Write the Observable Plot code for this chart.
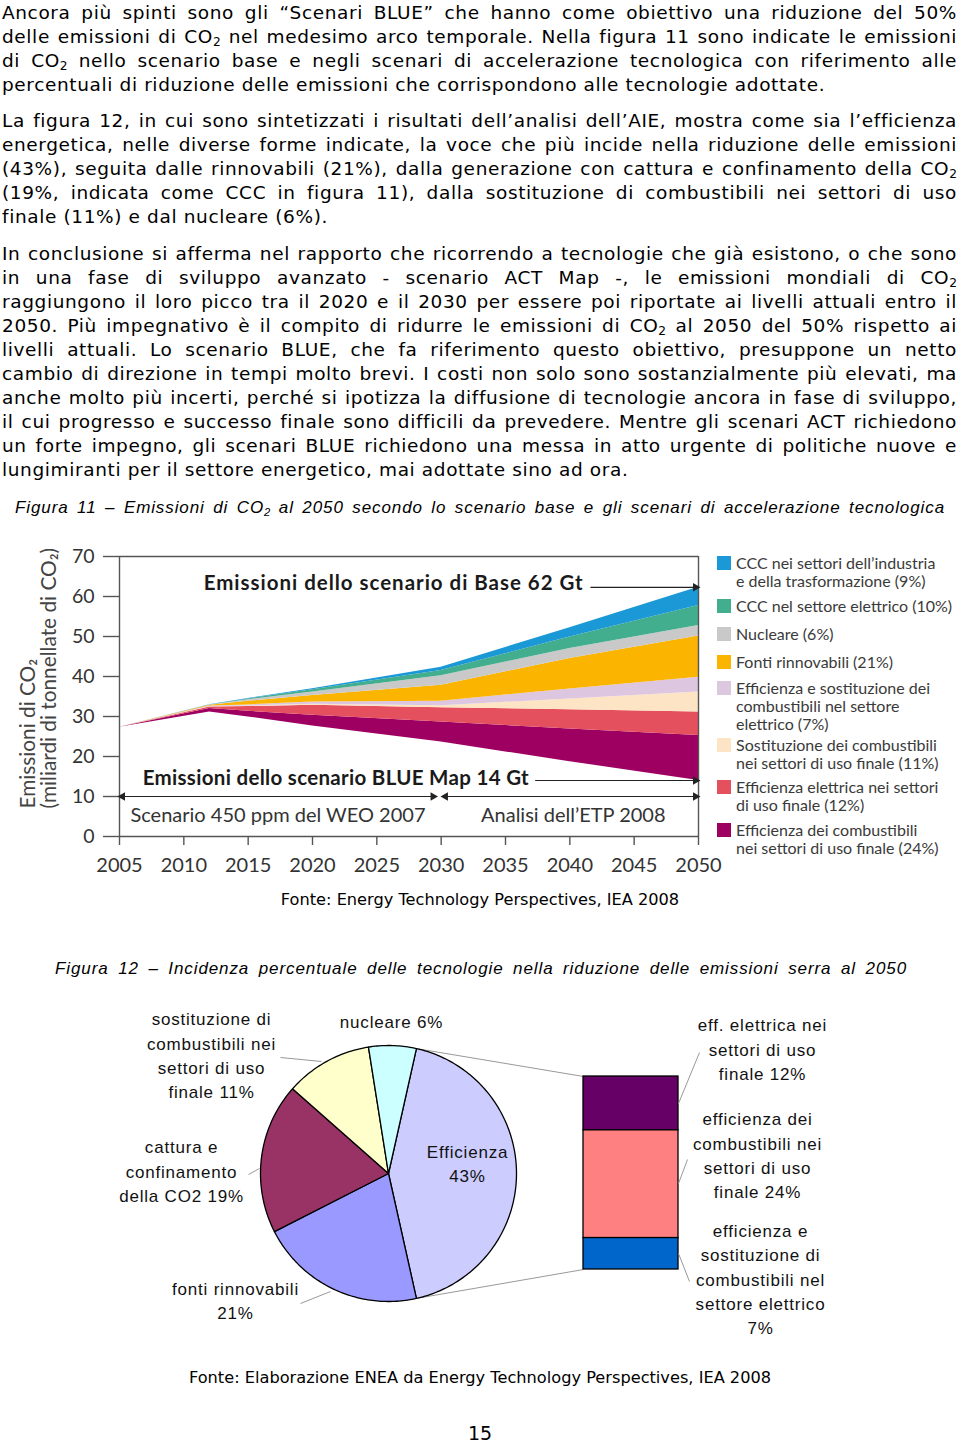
<!DOCTYPE html>
<html>
<head>
<meta charset="utf-8">
<script src="https://cdn.jsdelivr.net/npm/d3@7"></script>
<script src="https://cdn.jsdelivr.net/npm/@observablehq/plot@0.6"></script>
<style>
html, body { margin: 0; padding: 0; background: #fff; }
#page { position: relative; width: 960px; height: 1444px; overflow: hidden; font-family: "DejaVu Sans", Verdana, sans-serif; color: #000; }
.ln { position: absolute; left: 2px; width: 955px; height: 24px; line-height: 24px; font-size: 18.5px; letter-spacing: 0.62px; white-space: nowrap; }
.ln sub, .cap sub { font-size: 0.66em; vertical-align: -0.28em; line-height: 0; letter-spacing: 0; }
.cap { position: absolute; height: 24px; line-height: 24px; font-family: "Liberation Sans", Arial, sans-serif; font-style: italic; font-size: 17px; letter-spacing: 0.9px; white-space: nowrap; }
.src { position: absolute; left: 0; width: 960px; text-align: center; font-size: 16.2px; line-height: 20px; }
#legend11 { position: absolute; left: 717px; top: 0; font-family: Lato, "DejaVu Sans", sans-serif; font-size: 16px; line-height: 18px; color: #3a3a3a; }
#legend11 .it { position: absolute; left: 0; display: flex; align-items: flex-start; }
#legend11 .sw { width: 14px; height: 14px; margin-top: 2px; margin-right: 5px; flex: none; }
#legend11 .tx { white-space: pre; }
</style>
</head>
<body>
<div id="page"></div>
<script>
// ---------------- TEXT ----------------
const para1 = [
  "Ancora più spinti sono gli “Scenari BLUE” che hanno come obiettivo una riduzione del 50%",
  "delle emissioni di CO2 nel medesimo arco temporale. Nella figura 11 sono indicate le emissioni",
  "di CO2 nello scenario base e negli scenari di accelerazione tecnologica con riferimento alle",
  "percentuali di riduzione delle emissioni che corrispondono alle tecnologie adottate."
];
const para2 = [
  "La figura 12, in cui sono sintetizzati i risultati dell’analisi dell’AIE, mostra come sia l’efficienza",
  "energetica, nelle diverse forme indicate, la voce che più incide nella riduzione delle emissioni",
  "(43%), seguita dalle rinnovabili (21%), dalla generazione con cattura e confinamento della CO2",
  "(19%, indicata come CCC in figura 11), dalla sostituzione di combustibili nei settori di uso",
  "finale (11%) e dal nucleare (6%)."
];
const para3 = [
  "In conclusione si afferma nel rapporto che ricorrendo a tecnologie che già esistono, o che sono",
  "in una fase di sviluppo avanzato - scenario ACT Map -, le emissioni mondiali di CO2",
  "raggiungono il loro picco tra il 2020 e il 2030 per essere poi riportate ai livelli attuali entro il",
  "2050. Più impegnativo è il compito di ridurre le emissioni di CO2 al 2050 del 50% rispetto ai",
  "livelli attuali. Lo scenario BLUE, che fa riferimento questo obiettivo, presuppone un netto",
  "cambio di direzione in tempi molto brevi. I costi non solo sono sostanzialmente più elevati, ma",
  "anche molto più incerti, perché si ipotizza la diffusione di tecnologie ancora in fase di sviluppo,",
  "il cui progresso e successo finale sono difficili da prevedere. Mentre gli scenari ACT richiedono",
  "un forte impegno, gli scenari BLUE richiedono una messa in atto urgente di politiche nuove e",
  "lungimiranti per il settore energetico, mai adottate sino ad ora."
];
const caption11 = "Figura 11 – Emissioni di CO2 al 2050 secondo lo scenario base e gli scenari di accelerazione tecnologica";
const caption12 = "Figura 12 – Incidenza percentuale delle tecnologie nella riduzione delle emissioni serra al 2050";
const source11 = "Fonte: Energy Technology Perspectives, IEA 2008";
const source12 = "Fonte: Elaborazione ENEA da Energy Technology Perspectives, IEA 2008";
const pageNumber = "15";

// ---------------- FIGURA 11 DATA ----------------
const years = [2005, 2012, 2015, 2020, 2030, 2040, 2050];
const blueMapEmissions = [27.3, 31.1, 29.9, 27.6, 23.6, 18.7, 14.0];
// reductions (Gt CO2), stacked from the BLUE Map line upward
const effCombustibiliUsoFinale = [0, 0.9, 1.4, 2.7, 5.0, 8.2, 11.25];
const effElettricaUsoFinale   = [0, 0.35, 1.2, 2.5, 3.6, 4.8, 5.85];
const sostCombustibiliUsoFinale = [0, 0.1, 0.15, 0.25, 0.5, 2.7, 5.0];
const effSostSettoreElettrico = [0, 0.15, 0.25, 0.55, 1.1, 2.5, 3.7];
const fontiRinnovabili        = [0, 0.2, 0.9, 1.65, 4.0, 7.6, 10.3];
const nucleareGt              = [0, 0.05, 0.4, 0.85, 2.4, 2.5, 2.65];
const cccSettoreElettrico     = [0, 0.05, 0.2, 0.6, 1.3, 2.9, 5.0];
const cccIndustria            = [0, 0.05, 0.1, 0.25, 0.8, 2.3, 4.55];

const layerNames = [
  "Efficienza dei combustibili nei settori di uso finale",
  "Efficienza elettrica nei settori di uso finale",
  "Sostituzione dei combustibili nei settori di uso finale",
  "Efficienza e sostituzione dei combustibili nel settore elettrico",
  "Fonti rinnovabili",
  "Nucleare",
  "CCC nel settore elettrico",
  "CCC nei settori dell’industria e della trasformazione"
];
const layerColors = ["#9e0062", "#e5505e", "#fde4c4", "#dcc6e0", "#fbb400", "#c9c9c9", "#43ae8d", "#1b98d6"];
const legendLabels = [
  "CCC nei settori dell’industria\ne della trasformazione (9%)",
  "CCC nel settore elettrico (10%)",
  "Nucleare (6%)",
  "Fonti rinnovabili (21%)",
  "Efficienza e sostituzione dei\ncombustibili nel settore\nelettrico (7%)",
  "Sostituzione dei combustibili\nnei settori di uso finale (11%)",
  "Efficienza elettrica nei settori\ndi uso finale (12%)",
  "Efficienza dei combustibili\nnei settori di uso finale (24%)"
];
const yTicks = [0, 10, 20, 30, 40, 50, 60, 70];
const xTicks = [2005, 2010, 2015, 2020, 2025, 2030, 2035, 2040, 2045, 2050];
const yTitle = ["Emissioni di CO₂", "(miliardi di tonnellate di CO₂)"];
const boldNotes = [
  {text: "Emissioni dello scenario di Base 62 Gt", year: 2041.0, value: 63.3},
  {text: "Emissioni dello scenario BLUE Map 14 Gt", year: 2036.8, value: 14.6}
];
const periodNotes = [
  {text: "Scenario 450 ppm del WEO 2007", year: 2005.85, value: 5.2},
  {text: "Analisi dell’ETP 2008", year: 2033.1, value: 5.2}
];
const arrowLines = [
  {x1: 2041.6, x2: 2050, y: 62.3},
  {x1: 2037.3, x2: 2050, y: 14},
  {x1: 2005, x2: 2029.6, y: 10},
  {x1: 2030.1, x2: 2050, y: 10}
];
const headsRight = [{x: 2050, y: 62.3}, {x: 2050, y: 14}, {x: 2029.6, y: 10}, {x: 2050, y: 10}];
const headsLeft = [{x: 2005, y: 10}, {x: 2030.1, y: 10}];

// ---------------- FIGURA 12 DATA ----------------
const pieLabels = ["Efficienza", "fonti rinnovabili", "cattura e confinamento della CO2", "sostituzione di combustibili nei settori di uso finale", "nucleare"];
const pieShares = [43, 21, 19, 11, 6];
const pieColors = ["#CCCCFF", "#9999FF", "#993366", "#FFFFCC", "#CCFFFF"];
const pieTexts = ["Efficienza\n43%", "fonti rinnovabili\n21%", "cattura e\nconfinamento\ndella CO2 19%", "sostituzione di\ncombustibili nei\nsettori di uso\nfinale 11%", "nucleare 6%"];
const barLabels = ["eff. elettrica nei settori di uso finale", "efficienza dei combustibili nei settori di uso finale", "efficienza e sostituzione di combustibili nel settore elettrico"];
const barShares = [12, 24, 7];
const barColors = ["#660066", "#FF8080", "#0066CC"];
const barTexts = ["eff. elettrica nei\nsettori di uso\nfinale 12%", "efficienza dei\ncombustibili nei\nsettori di uso\nfinale 24%", "efficienza e\nsostituzione di\ncombustibili nel\nsettore elettrico\n7%"];

// ---------------- LAYOUT (positions in page pixels) ----------------
const legendLineCenters = [563, 606, 634, 662, 688, 745, 787, 830];
const boldNoteWidths = [379, 386];

// ---------------- PAGE TEXT ----------------
const page = document.getElementById("page");
function sub2(s) { return s.replace(/CO2/g, "CO<sub>2</sub>"); }
function addLine(cls, text, left, top, width, justify) {
  const d = document.createElement("div");
  d.className = cls;
  d.style.left = left + "px";
  d.style.top = top + "px";
  const s = document.createElement("span");
  s.innerHTML = sub2(text);
  d.appendChild(s);
  page.appendChild(d);
  if (justify) {
    const w = s.getBoundingClientRect().width;
    const n = (s.textContent.match(/ /g) || []).length;
    if (n) s.style.wordSpacing = ((width - w) / n) + "px";
  }
}
function addPara(lines, firstCenter) {
  lines.forEach((t, i) => addLine("ln", t, 2, firstCenter - 12 + i * 24, 955, i < lines.length - 1));
}
addPara(para1, 13);
addPara(para2, 121);
addPara(para3, 254);
addLine("cap", caption11, 15, 496, 930, true);
addLine("cap", caption12, 55, 957, 852, true);
function addSrc(text, centerY, size) {
  const d = document.createElement("div");
  d.className = "src";
  d.style.top = (centerY - 10) + "px";
  if (size) d.style.fontSize = size + "px";
  d.textContent = text;
  page.appendChild(d);
}
addSrc(source11, 900);
addSrc(source12, 1378);
addSrc(pageNumber, 1433, 19);

// ---------------- FIGURA 11 ----------------
const layers = [effCombustibiliUsoFinale, effElettricaUsoFinale, sostCombustibiliUsoFinale, effSostSettoreElettrico,
                fontiRinnovabili, nucleareGt, cccSettoreElettrico, cccIndustria];
const areaRows = [];
years.forEach((yr, j) => {
  let acc = blueMapEmissions[j];
  layers.forEach((vals, i) => {
    areaRows.push({year: yr, layer: layerNames[i], y1: acc, y2: acc + vals[j]});
    acc += vals[j];
  });
});
const axisColor = "#555";
const fig11 = Plot.plot({
  width: 710, height: 341,
  marginLeft: 119, marginRight: 12, marginTop: 16, marginBottom: 45,
  x: {domain: [2005, 2050]},
  y: {domain: [0, 70]},
  color: {domain: layerNames, range: layerColors},
  style: {fontFamily: "Lato, 'DejaVu Sans', sans-serif", color: "#333", background: "transparent", overflow: "visible"},
  marks: [
    Plot.areaY(areaRows, {x: "year", y1: "y1", y2: "y2", z: "layer", fill: "layer"}),
    Plot.ruleY([0, 70], {stroke: axisColor, strokeWidth: 1.4}),
    Plot.ruleX([2005, 2050], {y1: 0, y2: 70, stroke: axisColor, strokeWidth: 1.4}),
    Plot.axisY({ticks: yTicks, tickSize: 16, tickPadding: 9, fontSize: 19.5, label: null, stroke: axisColor, strokeWidth: 1.4, tickFormat: d => String(d)}),
    Plot.axisX({ticks: xTicks, tickSize: 9, tickPadding: 12, fontSize: 20, label: null, stroke: axisColor, strokeWidth: 1.4, tickFormat: d => String(d)}),
    Plot.text([yTitle[0]], {frameAnchor: "bottom-left", dx: -91, dy: -28, rotate: -90, textAnchor: "start", lineAnchor: "middle", fontSize: 20.8, fill: "#444"}),
    Plot.text([yTitle[1]], {frameAnchor: "bottom-left", dx: -70, dy: -28, rotate: -90, textAnchor: "start", lineAnchor: "middle", fontSize: 20.8, fill: "#444"}),
    Plot.link(arrowLines, {x1: "x1", x2: "x2", y1: "y", y2: "y", stroke: "#222", strokeWidth: 1.2}),
    Plot.dot(headsRight, {x: "x", y: "y", symbol: "triangle", r: 3.2, rotate: 90, dx: -3, fill: "#222", stroke: "none"}),
    Plot.dot(headsLeft, {x: "x", y: "y", symbol: "triangle", r: 3.2, rotate: -90, dx: 3, fill: "#222", stroke: "none"}),
    Plot.text(boldNotes, {x: "year", y: "value", text: "text", textAnchor: "end", fontSize: 20.5, fontWeight: "bold", fill: "#1a1a1a"}),
    Plot.text(periodNotes, {x: "year", y: "value", text: "text", textAnchor: "start", fontSize: 20, fill: "#333"})
  ]
});
// stretch the bold notes to the width they have in the reference
fig11.querySelectorAll("text").forEach(t => {
  const k = boldNotes.findIndex(n => n.text === t.textContent);
  if (k >= 0) { t.setAttribute("textLength", boldNoteWidths[k]); t.setAttribute("lengthAdjust", "spacing"); }
});
fig11.style.position = "absolute";
fig11.style.left = "0px";
fig11.style.top = "540px";
page.appendChild(fig11);

// legend (HTML)
const legend = document.createElement("div");
legend.id = "legend11";
const legendColors = layerColors.slice().reverse();
legendLabels.forEach((lab, i) => {
  const it = document.createElement("div");
  it.className = "it";
  it.style.top = (legendLineCenters[i] - 9) + "px";
  const sw = document.createElement("div");
  sw.className = "sw";
  sw.style.background = legendColors[i];
  const tx = document.createElement("div");
  tx.className = "tx";
  tx.textContent = lab;
  it.appendChild(sw); it.appendChild(tx);
  legend.appendChild(it);
});
page.appendChild(legend);

// ---------------- FIGURA 12 ----------------
const top12 = 990, h12 = 360;
const cx = 388, cy = 1173, R = 128;
const barX1 = 583, barX2 = 678, barTop = 1076, barPx = 193 / 43;
const pieTotal = d3.sum(pieShares);
const piePts = [];
const sliceEdges = [];
let ang = 90 - pieShares[0] / pieTotal * 360 / 2;
pieShares.forEach((s, i) => {
  const a0 = ang, a1 = ang + s / pieTotal * 360;
  sliceEdges.push([a0, a1]);
  const base = {slice: pieLabels[i], color: pieColors[i]};
  piePts.push({...base, x: cx, y: cy});
  const n = Math.ceil(a1 - a0);
  for (let k = 0; k <= n; k++) {
    const t = (a0 + (a1 - a0) * k / n) * Math.PI / 180;
    piePts.push({...base, x: cx + R * Math.sin(t), y: cy - R * Math.cos(t)});
  }
  piePts.push({...base, x: cx, y: cy});
  ang = a1;
});
let accBar = 0;
const barRows = barShares.map((s, i) => {
  const r = {label: barLabels[i], color: barColors[i], x1: barX1, x2: barX2, y1: barTop + accBar * barPx, y2: barTop + (accBar + s) * barPx};
  accBar += s;
  return r;
});
const barBottom = barTop + accBar * barPx;
const pt = a => ({x: cx + R * Math.sin(a * Math.PI / 180), y: cy - R * Math.cos(a * Math.PI / 180)});
const e0 = pt(sliceEdges[0][0]), e1 = pt(sliceEdges[0][1]);
const connectors = [
  {x1: e0.x, y1: e0.y, x2: barX1, y2: barTop},
  {x1: e1.x, y1: e1.y, x2: barX1, y2: barBottom}
];
const leaders = [
  {x1: 280, y1: 1057, x2: 321, y2: 1061},
  {x1: 248, y1: 1174, x2: 259, y2: 1168},
  {x1: 300, y1: 1303, x2: 330, y2: 1291},
  {x1: 678, y1: 1103, x2: 699, y2: 1052},
  {x1: 678, y1: 1183, x2: 687, y2: 1159},
  {x1: 678, y1: 1253, x2: 689, y2: 1281}
];
const pieLabelPos = [
  {x: 467, y: 1164}, {x: 235, y: 1301}, {x: 181, y: 1172}, {x: 211, y: 1056}, {x: 391, y: 1022}
];
const barLabelPos = [{x: 762, y: 1050}, {x: 757, y: 1156}, {x: 760, y: 1280}];
const labels12 = pieTexts.map((t, i) => ({text: t, ...pieLabelPos[i]}))
  .concat(barTexts.map((t, i) => ({text: t, ...barLabelPos[i]})));

const fig12 = Plot.plot({
  width: 960, height: h12,
  margin: 0,
  x: {domain: [0, 960], range: [0, 960], axis: null},
  y: {domain: [top12, top12 + h12], range: [0, h12], axis: null},
  color: {type: "identity"},
  style: {fontFamily: "'Liberation Sans', Arial, sans-serif", background: "transparent", overflow: "visible", letterSpacing: "0.8px"},
  marks: [
    Plot.link(connectors, {x1: "x1", y1: "y1", x2: "x2", y2: "y2", stroke: "#999", strokeWidth: 1}),
    Plot.line(piePts, {x: "x", y: "y", z: "slice", fill: "color", stroke: "#000", strokeWidth: 1.3, strokeLinejoin: "round"}),
    Plot.rect(barRows, {x1: "x1", x2: "x2", y1: "y1", y2: "y2", fill: "color", stroke: "#000", strokeWidth: 1.3}),
    Plot.link(leaders, {x1: "x1", y1: "y1", x2: "x2", y2: "y2", stroke: "#999", strokeWidth: 1}),
    Plot.text(labels12, {x: "x", y: "y", text: "text", lineAnchor: "middle", lineHeight: 1.43, fontSize: 17, dy: -2.5, fill: "#111"})
  ]
});
fig12.style.position = "absolute";
fig12.style.left = "0px";
fig12.style.top = top12 + "px";
page.appendChild(fig12);
</script>
</body>
</html>
